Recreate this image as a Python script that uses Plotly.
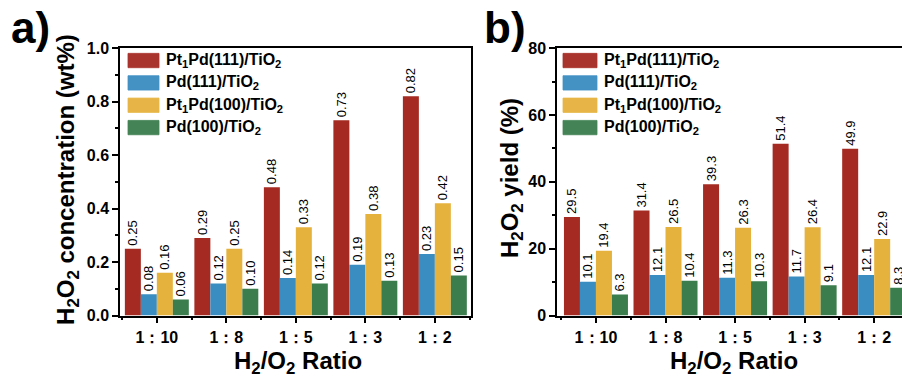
import plotly.graph_objects as go

# H2/O2 feed ratios (shared x categories)
ratios = ["1：10", "1：8", "1：5", "1：3", "1：2"]

catalysts = [
    "Pt<sub>1</sub>Pd(111)/TiO<sub>2</sub>",
    "Pd(111)/TiO<sub>2</sub>",
    "Pt<sub>1</sub>Pd(100)/TiO<sub>2</sub>",
    "Pd(100)/TiO<sub>2</sub>",
]

# a) H2O2 concentration (wt%)
conc_pt1pd111 = [0.25, 0.29, 0.48, 0.73, 0.82]
conc_pd111 = [0.08, 0.12, 0.14, 0.19, 0.23]
conc_pt1pd100 = [0.16, 0.25, 0.33, 0.38, 0.42]
conc_pd100 = [0.06, 0.10, 0.12, 0.13, 0.15]

# b) H2O2 yield (%)
yield_pt1pd111 = [29.5, 31.4, 39.3, 51.4, 49.9]
yield_pd111 = [10.1, 12.1, 11.3, 11.7, 12.1]
yield_pt1pd100 = [19.4, 26.5, 26.3, 26.4, 22.9]
yield_pd100 = [6.3, 10.4, 10.3, 9.1, 8.3]

colors = ["#A52A22", "#3A8DC1", "#E6B23E", "#3B7D4C"]

W, H = 902, 379
FONT = "Liberation Sans, Arial, sans-serif"


def px(x):
    return x / W


def py(y):
    return 1 - y / H


xpos = list(range(len(ratios)))

fig = go.Figure()

conc_series = [conc_pt1pd111, conc_pd111, conc_pt1pd100, conc_pd100]
yield_series = [yield_pt1pd111, yield_pd111, yield_pt1pd100, yield_pd100]

label_font = dict(family=FONT, size=13, color="black")

for name, vals, col in zip(catalysts, conc_series, colors):
    fig.add_trace(go.Bar(
        x=xpos, y=vals, name=name, marker=dict(color=col, line=dict(width=0)),
        texttemplate="%{y:.2f}", textposition="outside", textangle=-90,
        constraintext="none", cliponaxis=True, textfont=label_font,
        xaxis="x", yaxis="y", showlegend=False,
    ))

for name, vals, col in zip(catalysts, yield_series, colors):
    fig.add_trace(go.Bar(
        x=xpos, y=vals, name=name, marker=dict(color=col, line=dict(width=0)),
        texttemplate="%{y:.1f}", textposition="outside", textangle=-90,
        constraintext="none", cliponaxis=True, textfont=label_font,
        xaxis="x2", yaxis="y2", showlegend=False,
    ))

ydom = [py(322), py(42)]
tickfont = dict(family=FONT, size=16, color="black", weight="bold")

common_x = dict(
    tickmode="array", tickvals=xpos, ticktext=ratios,
    showline=True, linecolor="black", linewidth=1.5, mirror=True,
    ticks="outside", ticklen=6, tickwidth=1.5, tickcolor="black",
    minor=dict(tickmode="linear", tick0=0.5, dtick=1, ticks="outside",
               ticklen=3, tickwidth=1.5, tickcolor="black"),
    showgrid=False, zeroline=False, tickfont=tickfont, fixedrange=True,
)
common_y = dict(
    showline=True, linecolor="black", linewidth=1.5,
    ticks="outside", ticklen=6, tickwidth=1.5, tickcolor="black",
    showgrid=False, zeroline=False, tickfont=tickfont, fixedrange=True,
)

fig.update_layout(
    width=W, height=H,
    margin=dict(l=0, r=0, t=0, b=0),
    paper_bgcolor="white", plot_bgcolor="white",
    barmode="group", bargap=0.08, bargroupgap=0,
    font=dict(family=FONT, color="black"),
    xaxis=dict(domain=[px(120), px(471)], range=[-0.53, 4.52], anchor="y", **common_x),
    yaxis=dict(domain=ydom, range=[0, 1.0], dtick=0.2, tickformat=".1f",
               mirror=True, anchor="x",
               minor=dict(dtick=0.1, ticks="outside", ticklen=3, tickwidth=1.5,
                          tickcolor="black"),
               **common_y),
    xaxis2=dict(domain=[px(557), 1.0], range=[-0.56, 4.40], anchor="y2", **common_x),
    yaxis2=dict(domain=ydom, range=[0, 80], dtick=20, mirror=False, anchor="x2",
                minor=dict(dtick=10, ticks="outside", ticklen=3, tickwidth=1.5,
                           tickcolor="black"),
                **common_y),
)

annotations = []
shapes = []

# Hand-placed legends with wide colour swatches
for (bx0, bx1, tx) in [(128, 159, 164), (563, 597, 602)]:
    for i, (name, col) in enumerate(zip(catalysts, colors)):
        yc = 55 + i * 23.4
        shapes.append(dict(
            type="rect", xref="paper", yref="paper",
            x0=px(bx0), x1=px(bx1), y0=py(yc + 7.5), y1=py(yc - 7.5),
            fillcolor=col, line=dict(width=0.8, color=col), opacity=0.95,
        ))
        annotations.append(dict(
            text=f"<b>{name}</b>", xref="paper", yref="paper",
            x=px(tx), y=py(yc), xanchor="left", yanchor="middle",
            showarrow=False, font=dict(family=FONT, size=16, color="black"),
        ))

# Axis titles
title_font = dict(family=FONT, size=24, color="black")
annotations += [
    dict(text="<b>H<sub>2</sub>/O<sub>2</sub> Ratio</b>", xref="paper", yref="paper",
         x=px(298), y=py(371), xanchor="center", yanchor="middle",
         showarrow=False, font=title_font),
    dict(text="<b>H<sub>2</sub>/O<sub>2</sub> Ratio</b>", xref="paper", yref="paper",
         x=px(734), y=py(371), xanchor="center", yanchor="middle",
         showarrow=False, font=title_font),
    dict(text="<b>H<sub>2</sub>O<sub>2</sub> concentration (wt%)</b>", xref="paper",
         yref="paper", x=px(68), y=py(180), xanchor="center", yanchor="middle",
         textangle=-90, showarrow=False, font=title_font),
    dict(text="<b>H<sub>2</sub>O<sub>2</sub> yield (%)</b>", xref="paper",
         yref="paper", x=px(511), y=py(178), xanchor="center", yanchor="middle",
         textangle=-90, showarrow=False, font=title_font),
    # Panel letters
    dict(text="<b>a)</b>", xref="paper", yref="paper", x=px(9), y=py(20),
         xanchor="left", yanchor="middle", showarrow=False,
         font=dict(family=FONT, size=44, color="black")),
    dict(text="<b>b)</b>", xref="paper", yref="paper", x=px(482), y=py(20),
         xanchor="left", yanchor="middle", showarrow=False,
         font=dict(family=FONT, size=44, color="black")),
]

fig.update_layout(annotations=annotations, shapes=shapes)

fig.write_html("out.html")
